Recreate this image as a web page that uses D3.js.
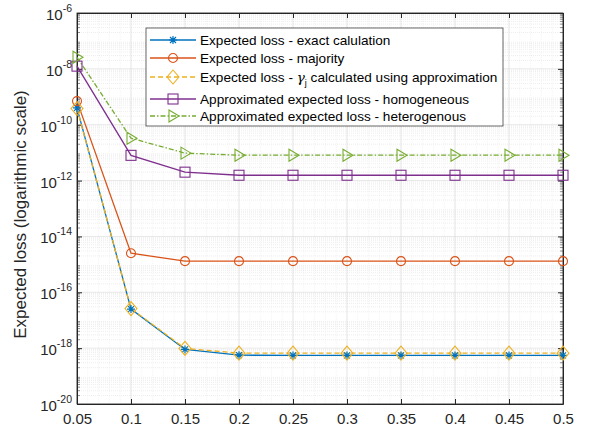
<!DOCTYPE html>
<html>
<head>
<meta charset="utf-8">
<script src="https://cdn.jsdelivr.net/npm/d3@7"></script>
<style>
  body { margin: 0; background: #fff; }
  text { font-family: "Liberation Sans", Arial, sans-serif; }
</style>
</head>
<body>
<svg id="svg1" width="593" height="434"></svg>
<script>
// data
var xValues = [0.05, 0.1, 0.15, 0.2, 0.25, 0.3, 0.35, 0.4, 0.45, 0.5];
var exactLoss = [4.0e-10, 2.5e-17, 9.0e-19, 5.6e-19, 5.5e-19, 5.5e-19, 5.5e-19, 5.5e-19, 5.5e-19, 5.5e-19];
var majorityLoss = [7.0e-10, 2.5e-15, 1.3e-15, 1.3e-15, 1.3e-15, 1.3e-15, 1.3e-15, 1.3e-15, 1.3e-15, 1.3e-15];
var approxGammaLoss = [3.8e-10, 2.6e-17, 9.8e-19, 6.6e-19, 6.6e-19, 6.6e-19, 6.6e-19, 6.6e-19, 6.6e-19, 6.6e-19];
var homogeneousLoss = [1.25e-8, 8.0e-12, 2.0e-12, 1.55e-12, 1.55e-12, 1.55e-12, 1.55e-12, 1.55e-12, 1.55e-12, 1.55e-12];
var heterogenousLoss = [2.6e-8, 3.3e-11, 9.6e-12, 8.1e-12, 8.1e-12, 8.1e-12, 8.1e-12, 8.1e-12, 8.1e-12, 8.1e-12];
var xTickLabels = ['0.05', '0.1', '0.15', '0.2', '0.25', '0.3', '0.35', '0.4', '0.45', '0.5'];
var yTickExponents = [-20, -18, -16, -14, -12, -10, -8, -6];
var seriesNames = [
  'Expected loss - exact calulation',
  'Expected loss - majority',
  'Expected loss - \u03B3j calculated using approximation',
  'Approximated expected loss - homogeneous',
  'Approximated expected loss - heterogenous'
];

var series = [
  {name: seriesNames[0], values: exactLoss, color: '#0072BD', dash: null, marker: 'star'},
  {name: seriesNames[1], values: majorityLoss, color: '#D95319', dash: null, marker: 'circle'},
  {name: seriesNames[2], values: approxGammaLoss, color: '#EDB120', dash: '5,3', marker: 'diamond'},
  {name: seriesNames[3], values: homogeneousLoss, color: '#7E2F8E', dash: null, marker: 'square'},
  {name: seriesNames[4], values: heterogenousLoss, color: '#77AC30', dash: '5,2,1.5,2', marker: 'triangle'}
];

var margin = {left: 77, top: 13};
var plotW = 563 - margin.left, plotH = 404 - margin.top;

var svg = d3.select('svg')
  .append('g')
  .attr('transform', 'translate(' + margin.left + ',' + margin.top + ')');

var x = d3.scaleLinear().domain([0.05, 0.5]).range([0, plotW]);
var y = d3.scaleLog().domain([1e-20, 1e-6]).range([plotH, 0]);

// minor grid (y)
var minorVals = [];
for (var e = -20; e < -6; e++) {
  for (var m = 2; m <= 9; m++) minorVals.push(m * Math.pow(10, e));
}
svg.selectAll('.ygridminor')
  .data(minorVals).enter().append('line')
  .attr('x1', 0).attr('x2', plotW)
  .attr('y1', function(d){ return y(d); }).attr('y2', function(d){ return y(d); })
  .attr('stroke', '#e3e3e3').attr('stroke-width', 0.6)
  .attr('stroke-dasharray', '1,1');

// minor grid (x)
var xMinor = d3.range(0.05, 0.5001, 0.01);
svg.selectAll('.xgridminor')
  .data(xMinor).enter().append('line')
  .attr('x1', function(d){ return x(d); }).attr('x2', function(d){ return x(d); })
  .attr('y1', 0).attr('y2', plotH)
  .attr('stroke', '#ececec').attr('stroke-width', 0.6)
  .attr('stroke-dasharray', '1,1');

// major grid
svg.selectAll('.ygrid')
  .data(yTickExponents).enter().append('line')
  .attr('x1', 0).attr('x2', plotW)
  .attr('y1', function(d){ return y(Math.pow(10, d)); }).attr('y2', function(d){ return y(Math.pow(10, d)); })
  .attr('stroke', '#dcdcdc').attr('stroke-width', 0.7);
svg.selectAll('.xgrid')
  .data(xValues).enter().append('line')
  .attr('x1', function(d){ return x(d); }).attr('x2', function(d){ return x(d); })
  .attr('y1', 0).attr('y2', plotH)
  .attr('stroke', '#dcdcdc').attr('stroke-width', 0.7);

// axes
var xAxis = d3.axisBottom(x).tickValues(xValues)
  .tickFormat(function(d, i){ return xTickLabels[i]; })
  .tickSize(-5).tickSizeOuter(0).tickPadding(9);
var gx = svg.append('g').attr('transform', 'translate(0,' + plotH + ')').call(xAxis);
gx.selectAll('text').attr('font-size', 15).attr('fill', '#262626')
  .attr('font-family', '"Liberation Sans", Arial, sans-serif');

var xTop = d3.axisTop(x).tickValues(xValues).tickFormat('').tickSize(-5).tickSizeOuter(0);
svg.append('g').call(xTop);

var yAxis = d3.axisLeft(y).tickValues(yTickExponents.map(function(d){ return Math.pow(10, d); }))
  .tickFormat('').tickSize(-5).tickSizeOuter(0);
svg.append('g').call(yAxis);
var yRight = d3.axisRight(y).tickValues(yTickExponents.map(function(d){ return Math.pow(10, d); }))
  .tickFormat('').tickSize(-5).tickSizeOuter(0);
svg.append('g').attr('transform', 'translate(' + plotW + ',0)').call(yRight);

// minor ticks on y
[[0, 3], [plotW, -3]].forEach(function(s){
  svg.selectAll(null).data(minorVals).enter().append('line')
    .attr('x1', s[0]).attr('x2', s[0] + s[1])
    .attr('y1', function(d){ return y(d); }).attr('y2', function(d){ return y(d); })
    .attr('stroke', '#262626').attr('stroke-width', 0.5);
});

svg.selectAll('.domain, .tick line').attr('stroke', '#262626');

// y tick labels with superscripts
var yLab = svg.selectAll('.ylab').data(yTickExponents).enter().append('text')
  .attr('x', -5).attr('y', function(d){ return y(Math.pow(10, d)) + 7; })
  .attr('text-anchor', 'end').attr('font-size', 15).attr('fill', '#262626');
yLab.append('tspan').text('10');
yLab.append('tspan').attr('dy', -8).attr('font-size', 10.5).text(function(d){ return '-' + Math.abs(d); });

// box
svg.append('rect').attr('x', 0).attr('y', 0).attr('width', plotW).attr('height', plotH)
  .attr('fill', 'none').attr('stroke', '#262626').attr('stroke-width', 0.8);

// y label
svg.append('text')
  .attr('transform', 'translate(' + (-51) + ',' + (plotH / 2 + 6) + ') rotate(-90)')
  .attr('text-anchor', 'middle').attr('font-size', 17).attr('fill', '#262626')
  .text('Expected loss (logarithmic scale)');

function drawMarker(g, type, color) {
  if (type === 'star') {
    g.append('path').attr('d', 'M-4,0H4M0,-4V4M-3,-3L3,3M-3,3L3,-3')
      .attr('stroke', color).attr('stroke-width', 1.2).attr('fill', 'none');
  } else if (type === 'circle') {
    g.append('circle').attr('r', 4.5).attr('fill', 'none').attr('stroke', color).attr('stroke-width', 1.1);
  } else if (type === 'diamond') {
    g.append('path').attr('d', 'M0,-7L6,0L0,7L-6,0Z').attr('fill', 'none').attr('stroke', color).attr('stroke-width', 1.1);
  } else if (type === 'square') {
    g.append('rect').attr('x', -5).attr('y', -5).attr('width', 10).attr('height', 10)
      .attr('fill', 'none').attr('stroke', color).attr('stroke-width', 1.1);
  } else if (type === 'triangle') {
    g.append('path').attr('d', 'M-4,-6L6,0L-4,6Z').attr('fill', 'none').attr('stroke', color).attr('stroke-width', 1.1);
  }
}

var line = d3.line()
  .x(function(d, i){ return x(xValues[i]); })
  .y(function(d){ return y(d); });

series.forEach(function(s){
  svg.append('path').datum(s.values)
    .attr('d', line).attr('fill', 'none')
    .attr('stroke', s.color).attr('stroke-width', 1.3)
    .attr('stroke-dasharray', s.dash);
});
series.forEach(function(s){
  s.values.forEach(function(v, i){
    var g = svg.append('g').attr('transform', 'translate(' + x(xValues[i]) + ',' + y(v) + ')');
    drawMarker(g, s.marker, s.color);
  });
});

// legend
var leg = d3.select('svg').append('g').attr('transform', 'translate(146,28)');
leg.append('rect').attr('width', 357).attr('height', 98)
  .attr('fill', '#fff').attr('stroke', '#262626').attr('stroke-width', 0.7);
var rowY = [12, 30, 49, 71, 88];
series.forEach(function(s, i){
  var r = leg.append('g').attr('transform', 'translate(0,' + rowY[i] + ')');
  r.append('line').attr('x1', 4).attr('x2', 50).attr('y1', 0).attr('y2', 0)
    .attr('stroke', s.color).attr('stroke-width', 1.3).attr('stroke-dasharray', s.dash);
  drawMarker(r.append('g').attr('transform', 'translate(27,0)'), s.marker, s.color);
  var t = r.append('text').attr('x', 54).attr('y', 5).attr('font-size', 13.6).attr('fill', '#000');
  if (i === 2) {
    t.append('tspan').text('Expected loss - ');
    t.append('tspan').attr('font-family', 'DejaVu Serif, serif').attr('font-style', 'italic').text('\u03B3');
    t.append('tspan').attr('dy', 4).attr('font-size', 9).text('j');
    t.append('tspan').attr('dy', -4).text(' calculated using approximation');
  } else {
    t.text(s.name);
  }
});
</script>
</body>
</html>
